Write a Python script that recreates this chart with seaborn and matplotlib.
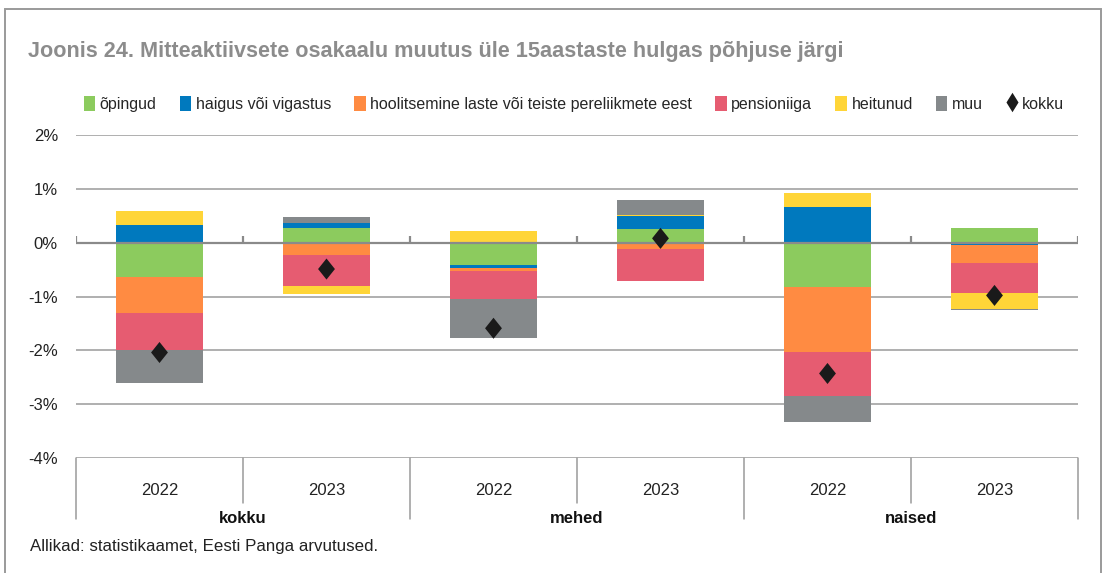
import matplotlib.pyplot as plt
import numpy as np
import pandas as pd
import seaborn as sns
from matplotlib.lines import Line2D
from matplotlib.patches import Patch, Rectangle

# data (percentage points)
groups = ["kokku", "kokku", "mehed", "mehed", "naised", "naised"]
years = ["2022", "2023", "2022", "2023", "2022", "2023"]
opingud = [-0.64, 0.27, -0.42, 0.25, -0.83, 0.28]
haigus = [0.33, 0.09, -0.05, 0.25, 0.67, -0.05]
hoolitsemine = [-0.66, -0.22, -0.05, -0.12, -1.20, -0.32]
pensioniiga = [-0.69, -0.59, -0.52, -0.60, -0.81, -0.57]
heitunud = [0.25, -0.15, 0.21, 0.02, 0.25, -0.30]
muu = [-0.61, 0.11, -0.74, 0.27, -0.50, -0.02]
kokku = [-2.04, -0.49, -1.59, 0.08, -2.43, -0.98]

series = ["õpingud", "haigus või vigastus", "hoolitsemine laste või teiste pereliikmete eest",
          "pensioniiga", "heitunud", "muu"]
colors = ["#8CCB5E", "#0079BE", "#FF8B42", "#E65C71", "#FFD538", "#85898B"]

df = pd.DataFrame({
    series[0]: opingud, series[1]: haigus, series[2]: hoolitsemine,
    series[3]: pensioniiga, series[4]: heitunud, series[5]: muu,
})
df["kokku"] = kokku
df["x"] = np.arange(len(years))

sns.set_theme(style="white")
plt.rcParams["font.family"] = ["Liberation Sans", "DejaVu Sans"]

W, H = 1102, 573
fig = plt.figure(figsize=(W / 100, H / 100), dpi=100)
ax = fig.add_axes([76 / W, 1 - 458 / H, (1078 - 76) / W, (458 - 135) / H])

# stacked bars, positives and negatives stacked separately
pos = np.zeros(len(df))
neg = np.zeros(len(df))
for name, col in zip(series, colors):
    v = df[name].to_numpy()
    bottom = np.where(v >= 0, pos, neg)
    ax.bar(df["x"], v, bottom=bottom, width=0.52, color=col, edgecolor="none", zorder=3)
    pos += np.where(v >= 0, v, 0)
    neg += np.where(v < 0, v, 0)

diamond = [(0, 1), (0.8, 0), (0, -1), (-0.8, 0), (0, 1)]
sns.scatterplot(data=df, x="x", y="kokku", marker=diamond, s=230, color="#1A1A1A",
                edgecolor="none", zorder=5, ax=ax, legend=False)

ax.set_xlim(-0.5, 5.5)
ax.set_ylim(-4, 2)
ax.set_yticks([2, 1, 0, -1, -2, -3, -4])
ax.set_yticklabels(["2%", "1%", "0%", "-1%", "-2%", "-3%", "-4%"], fontsize=12, color="#222222")
ax.tick_params(axis="y", length=0, pad=13)
ax.set_xticks([])
ax.set_xlabel("")
ax.set_ylabel("")
for s in ax.spines.values():
    s.set_visible(False)
for yv in [2, 1, -1, -2, -3, -4]:
    ax.axhline(yv, color="#9A9A9A", lw=1.1, zorder=1)
ax.axhline(0, color="#8A8A8A", lw=1.6, zorder=4)
ax.vlines(np.arange(-0.5, 6, 1), 0, 0.13, color="#8A8A8A", lw=1.6, zorder=4)

# category axis below
tr = ax.get_xaxis_transform()
for i, xb in enumerate(np.arange(-0.5, 6, 1)):
    depth = -0.189 if i % 2 == 0 else -0.139
    ax.plot([xb, xb], [0, depth], transform=tr, color="#9A9A9A", lw=1.1, clip_on=False)
for xi, yr in zip(df["x"], years):
    ax.text(xi, -0.102, yr, transform=tr, ha="center", va="center", fontsize=12, color="#222222")
for k, g in enumerate(["kokku", "mehed", "naised"]):
    ax.text(2 * k + 0.5, -0.186, g, transform=tr, ha="center", va="center",
            fontsize=12, fontweight="bold", color="#111111")

# title, legend, source
fig.text(28 / W, 1 - 52 / H, "Joonis 24. Mitteaktiivsete osakaalu muutus üle 15aastaste hulgas põhjuse järgi",
         ha="left", va="center", fontsize=15.6, fontweight="bold", color="#8C8C8C")
handles = [Patch(facecolor=c, edgecolor="none") for c in colors]
handles.append(Line2D([], [], marker=[(0, 1), (0.62, 0), (0, -1), (-0.62, 0), (0, 1)], linestyle="none",
                      markersize=14, markerfacecolor="#1A1A1A", markeredgecolor="none"))
fig.legend(handles, series + ["kokku"], loc="center", bbox_to_anchor=(574 / W, 1 - 104 / H),
           ncol=7, frameon=False, fontsize=11.5, handlelength=0.7, handleheight=1.1,
           handletextpad=0.3, columnspacing=1.45, borderpad=0)
fig.text(30 / W, 1 - 547 / H, "Allikad: statistikaamet, Eesti Panga arvutused.",
         ha="left", va="center", fontsize=12.2, color="#222222")

fig.patches.append(Rectangle((5 / W, -0.05), (1101 - 5) / W, 1.05 - 9 / H, transform=fig.transFigure,
                             fill=False, edgecolor="#9A9A9A", lw=1.4))

fig.savefig("out.png", dpi=100)
